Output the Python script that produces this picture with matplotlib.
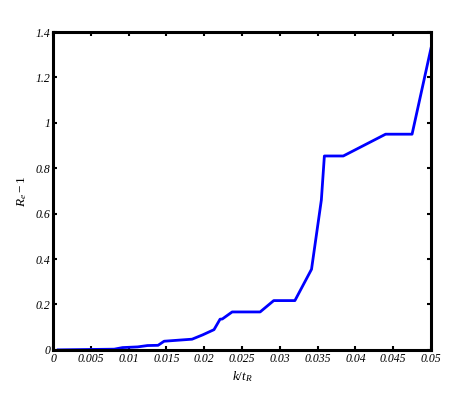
import matplotlib
matplotlib.use('Agg')
import matplotlib.pyplot as plt

# values
k_over_t = [0.0007, 0.0081, 0.0092, 0.0112, 0.0125, 0.0139, 0.0147, 0.0184, 0.0198,
            0.0213, 0.0221, 0.0224, 0.0237, 0.0274, 0.0292, 0.0320, 0.0342, 0.0355,
            0.0359, 0.0384, 0.0440, 0.0475, 0.0500]
re_minus_1 = [0.0, 0.003, 0.010, 0.013, 0.019, 0.020, 0.038, 0.047, 0.066,
              0.089, 0.135, 0.136, 0.167, 0.167, 0.217, 0.217, 0.355, 0.660,
              0.854, 0.854, 0.950, 0.950, 1.328]

xticks = [0, 0.005, 0.01, 0.015, 0.02, 0.025, 0.03, 0.035, 0.04, 0.045, 0.05]
xticklabels = ['0', '0.005', '0.01', '0.015', '0.02', '0.025', '0.03', '0.035', '0.04', '0.045', '0.05']
yticks = [0, 0.2, 0.4, 0.6, 0.8, 1, 1.2, 1.4]
yticklabels = ['0', '0.2', '0.4', '0.6', '0.8', '1', '1.2', '1.4']

plt.rcParams['font.family'] = ['Liberation Serif', 'DejaVu Serif']
plt.rcParams['mathtext.fontset'] = 'custom'
plt.rcParams['mathtext.it'] = 'Liberation Serif:italic'
plt.rcParams['mathtext.rm'] = 'Liberation Serif'

fig = plt.figure(figsize=(4.71, 4.16), dpi=100)
ax = fig.add_axes([0.1125, 0.159, 0.8025, 0.764])

ax.plot(k_over_t, re_minus_1, color='#0000ff', linewidth=2.0)

ax.set_xlim(0, 0.05)
ax.set_ylim(0, 1.4)
ax.set_xticks(xticks)
ax.set_xticklabels(xticklabels, fontstyle='italic', fontsize=8.5)
ax.set_yticks(yticks)
ax.set_yticklabels(yticklabels, fontstyle='italic', fontsize=8.5)

ax.tick_params(direction='in', top=True, right=True, length=3, width=1.5, pad=2)
for s in ax.spines.values():
    s.set_linewidth(2.2)

ax.set_xlabel(r'$k/t_{\mathit{R}}$', fontsize=9.5, labelpad=3)
ax.set_ylabel(r'$R_e - 1$', fontsize=9.5, labelpad=5)

fig.savefig('out.png', dpi=100)
